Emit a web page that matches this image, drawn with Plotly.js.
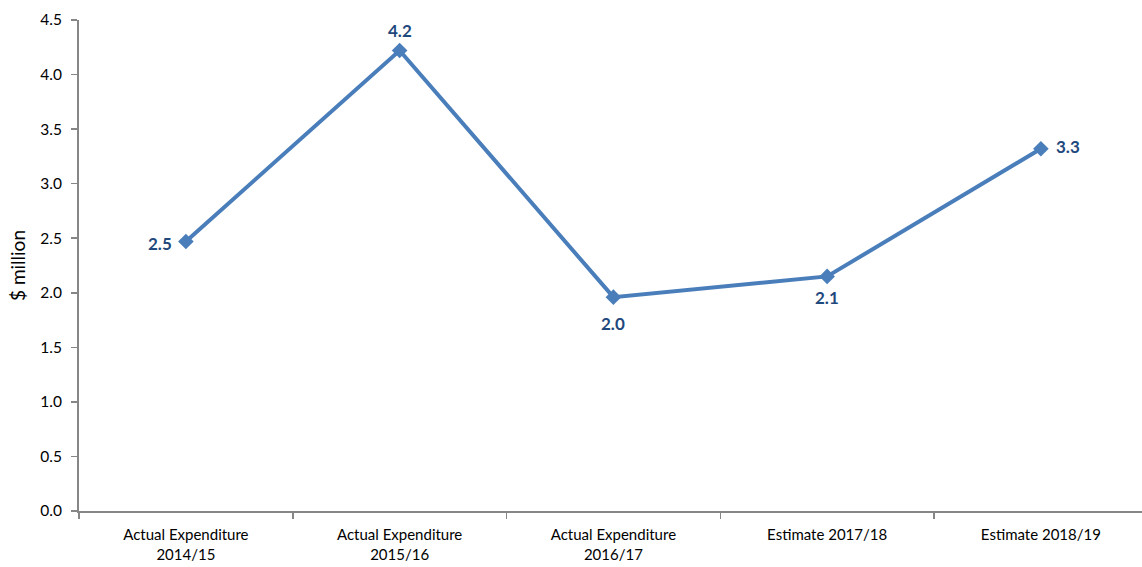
<!DOCTYPE html>
<html>
<head>
<meta charset="utf-8">
<script src="https://cdn.plot.ly/plotly-3.0.1.min.js"></script>
<style>html,body{margin:0;padding:0;background:#fff;}#chart{width:1142px;height:567px;}</style>
</head>
<body>
<div id="chart"></div>
<script>
const categories = ["Actual Expenditure<br>2014/15", "Actual Expenditure<br>2015/16", "Actual Expenditure<br>2016/17", "Estimate 2017/18", "Estimate 2018/19"];
const values = [2.47, 4.22, 1.96, 2.15, 3.32];
const labels = ["2.5", "4.2", "2.0", "2.1", "3.3"];
const labelShiftX = [-26, 0, 0, 0, 27];
const labelShiftY = [-2, 20, -26, -21, 2];
const yTicks = [0, 0.5, 1, 1.5, 2, 2.5, 3, 3.5, 4, 4.5];

const trace = {
  x: categories,
  y: values,
  type: "scatter",
  mode: "lines+markers",
  line: {color: "#4A7EBB", width: 4},
  marker: {symbol: "diamond", size: 12, color: "#4A7EBB"},
  cliponaxis: false,
  hoverinfo: "x+y"
};

const annotations = values.map((v, i) => ({
  x: categories[i], y: v, xref: "x", yref: "y",
  text: "<b>" + labels[i] + "</b>",
  showarrow: false,
  xshift: labelShiftX[i], yshift: labelShiftY[i],
  xanchor: "center", yanchor: "middle",
  font: {family: "Lato, 'Open Sans', sans-serif", size: 17, color: "#1F497D"}
}));

const layout = {
  width: 1142, height: 567,
  margin: {l: 79, r: 0, t: 20, b: 56},
  paper_bgcolor: "#fff", plot_bgcolor: "#fff",
  showlegend: false,
  font: {family: "Lato, 'Open Sans', sans-serif", size: 15, color: "#000"},
  annotations: annotations,
  xaxis: {
    type: "category",
    range: [-0.5, 4.473],
    tickson: "boundaries",
    ticks: "outside", ticklen: 6, tickcolor: "#868686", tickwidth: 1.5,
    showline: true, linecolor: "#868686", linewidth: 2,
    showgrid: false, zeroline: false,
    tickfont: {size: 15},
    ticklabelstandoff: 9,
    automargin: false
  },
  yaxis: {
    range: [0, 4.5],
    tickvals: yTicks,
    tickformat: ".1f",
    ticks: "outside", ticklen: 6, tickcolor: "#868686", tickwidth: 1.5,
    showline: true, linecolor: "#868686", linewidth: 2,
    showgrid: false, zeroline: false,
    tickfont: {size: 15.5},
    ticklabelstandoff: 6,
    title: {text: "$ million", font: {size: 19}, standoff: 10},
    automargin: false
  }
};

Plotly.newPlot("chart", [trace], layout, {displayModeBar: false, staticPlot: true});
</script>
</body>
</html>
